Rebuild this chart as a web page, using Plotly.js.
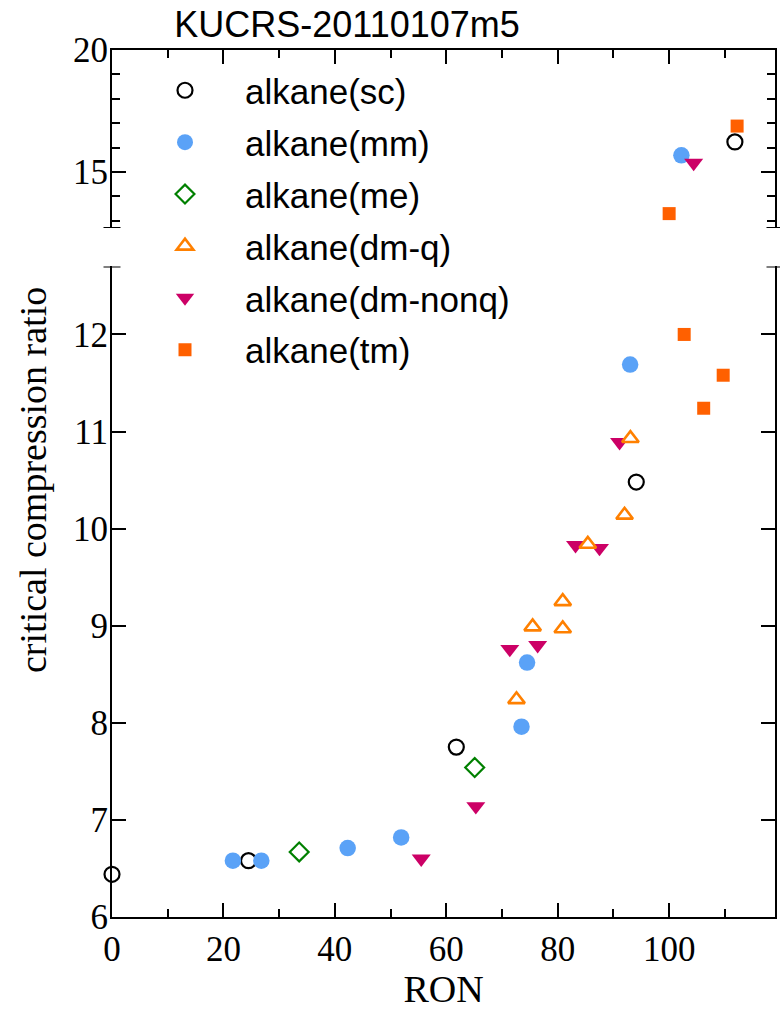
<!DOCTYPE html>
<html>
<head>
<meta charset="utf-8">
<script src="https://cdn.plot.ly/plotly-3.0.1.min.js"></script>
<style>html,body{margin:0;padding:0;background:#fff;}</style>
</head>
<body>
<div id="chart" style="width:780px;height:1010px;"></div>
<script>
// ---- data (RON, critical compression ratio) ----
const scRON = [0, 24.5, 61.8, 94.1, 111.8];
const scCR  = [6.44, 6.58, 7.75, 10.48, 16.23];

const mmRON = [21.7, 26.8, 42.3, 51.9, 73.5, 74.5, 93.0, 102.2];
const mmCR  = [6.58, 6.58, 6.71, 6.82, 7.96, 8.62, 11.69, 15.68];

const meRON = [33.6, 65.1];
const meCR  = [6.67, 7.54];

const dmqRON = [72.6, 75.5, 80.9, 80.9, 85.4, 92.0, 93.05];
const dmqCR  = [8.24, 8.99, 8.97, 9.25, 9.84, 10.14, 10.93];

const dmnRON = [55.5, 65.3, 71.4, 76.4, 83.2, 87.5, 91.1, 104.4];
const dmnCR  = [6.60, 7.14, 8.76, 8.80, 9.83, 9.80, 10.89, 15.37];

const tmRON = [100.0, 102.7, 106.2, 109.7, 112.2];
const tmCR  = [13.29, 12.00, 11.24, 11.58, 16.88];

const seriesNames = ["alkane(sc)", "alkane(mm)", "alkane(me)", "alkane(dm-q)", "alkane(dm-nonq)", "alkane(tm)"];
const xTickVals = [0, 20, 40, 60, 80, 100];
const yBreak = 12.7;

// ---- styles ----
const styles = [
  {symbol: "circle", size: 15, color: "#ffffff", line: {width: 2.2, color: "#000000"}},
  {symbol: "circle", size: 16.5, color: "#5aa2f7", line: {width: 0}},
  {symbol: "diamond", size: 14.5, color: "#ffffff", line: {width: 2.2, color: "#008000"}},
  {symbol: "triangle-up", size: 14.5, color: "#ffffff", line: {width: 2.6, color: "#ff8000"}},
  {symbol: "triangle-down", size: 16.5, color: "#cc0066", line: {width: 0}},
  {symbol: "square", size: 13, color: "#ff6000", line: {width: 0}}
];
const dataSets = [[scRON, scCR], [mmRON, mmCR], [meRON, meCR], [dmqRON, dmqCR], [dmnRON, dmnCR], [tmRON, tmCR]];
const drawOrder = [0, 1, 2, 4, 3, 5];

const traces = [];
drawOrder.forEach((i) => {
  const [xs, ys] = dataSets[i];
  const lowX = [], lowY = [], hiX = [], hiY = [];
  xs.forEach((x, k) => {
    if (ys[k] <= yBreak) { lowX.push(x); lowY.push(ys[k]); }
    else { hiX.push(x); hiY.push(ys[k]); }
  });
  traces.push({
    type: "scatter", mode: "markers", name: seriesNames[i], legendgroup: "g" + i, legendrank: i + 1,
    x: lowX, y: lowY, xaxis: "x", yaxis: "y", marker: styles[i], cliponaxis: false
  });
  traces.push({
    type: "scatter", mode: "markers", name: seriesNames[i], legendgroup: "g" + i, showlegend: false,
    x: hiX, y: hiY, xaxis: "x2", yaxis: "y2", marker: styles[i], cliponaxis: false
  });
});

const serif = "Liberation Serif, Times New Roman, serif";
const sans = "Liberation Sans, Arial, sans-serif";
const W = 663, H = 867;

function cap(yref, side) {
  const xc = side === 0 ? 0 : 1;
  return {type: "line", xref: "paper", yref: yref, x0: xc - 8.5 / W, x1: xc + 8.5 / W,
          y0: yBreak, y1: yBreak, line: {color: "#000", width: 2}};
}

const layout = {
  width: 780, height: 1010,
  margin: {l: 112, r: 5, t: 50, b: 93, pad: 0},
  paper_bgcolor: "#fff", plot_bgcolor: "#fff",
  showlegend: true,
  title: {text: "KUCRS-20110107m5", font: {family: sans, size: 36, color: "#000"},
          x: 347 / 780, xref: "container", xanchor: "center",
          y: 1 - 24 / 1010, yref: "container", yanchor: "middle"},
  xaxis: {
    domain: [0, 1], anchor: "y", range: [0, 119], showgrid: false, zeroline: false,
    showline: true, linecolor: "#000", linewidth: 2,
    tickvals: xTickVals, ticks: "inside", ticklen: 14, tickwidth: 2, tickcolor: "#000",
    minor: {dtick: 10, tick0: 0, ticks: "inside", ticklen: 8, tickwidth: 2, tickcolor: "#000", showgrid: false},
    tickfont: {family: serif, size: 35, color: "#000"},
    title: {text: "RON", font: {family: serif, size: 38, color: "#000"}, standoff: 16},
    automargin: false
  },
  xaxis2: {
    domain: [0, 1], anchor: "y2", side: "top", matches: "x", range: [0, 119], showgrid: false, zeroline: false,
    showline: true, linecolor: "#000", linewidth: 2, showticklabels: false,
    tickvals: xTickVals, ticks: "inside", ticklen: 14, tickwidth: 2, tickcolor: "#000",
    minor: {dtick: 10, tick0: 0, ticks: "inside", ticklen: 8, tickwidth: 2, tickcolor: "#000", showgrid: false},
    automargin: false
  },
  yaxis: {
    domain: [0, 0.7503], anchor: "x", range: [6, yBreak], showgrid: false, zeroline: false,
    showline: true, linecolor: "#000", linewidth: 2, mirror: "ticks",
    dtick: 1, tick0: 0, ticks: "inside", ticklen: 14, tickwidth: 2, tickcolor: "#000",
    tickfont: {family: serif, size: 35, color: "#000"}, ticklabelstandoff: -5,
    automargin: false
  },
  yaxis2: {
    domain: [0.7947, 1], anchor: "x2", range: [yBreak, 20], showgrid: false, zeroline: false,
    showline: true, linecolor: "#000", linewidth: 2, mirror: "ticks",
    dtick: 5, tick0: 0, ticks: "inside", ticklen: 14, tickwidth: 2, tickcolor: "#000",
    minor: {dtick: 1, tick0: 0, ticks: "inside", ticklen: 8, tickwidth: 2, tickcolor: "#000", showgrid: false},
    tickfont: {family: serif, size: 35, color: "#000"}, ticklabelstandoff: -5,
    automargin: false
  },
  legend: {
    x: (125 - 112) / W, xanchor: "left", y: 1 + (50 - 61) / H, yanchor: "top",
    font: {family: sans, size: 35, color: "#000"}, bgcolor: "rgba(0,0,0,0)", borderwidth: 0,
    itemwidth: 110, tracegroupgap: 3.4, itemclick: false, traceorder: "grouped"
  },
  annotations: [{
    text: "critical compression ratio", textangle: -90, showarrow: false,
    xref: "paper", yref: "paper", x: (33 - 112) / W, y: (917 - 480) / H,
    xanchor: "center", yanchor: "middle", font: {family: serif, size: 38, color: "#000"}
  }],
  shapes: [cap("y", 0), cap("y", 1), cap("y2", 0), cap("y2", 1)]
};

Plotly.newPlot("chart", traces, layout, {displayModeBar: false, staticPlot: true});
</script>
</body>
</html>
